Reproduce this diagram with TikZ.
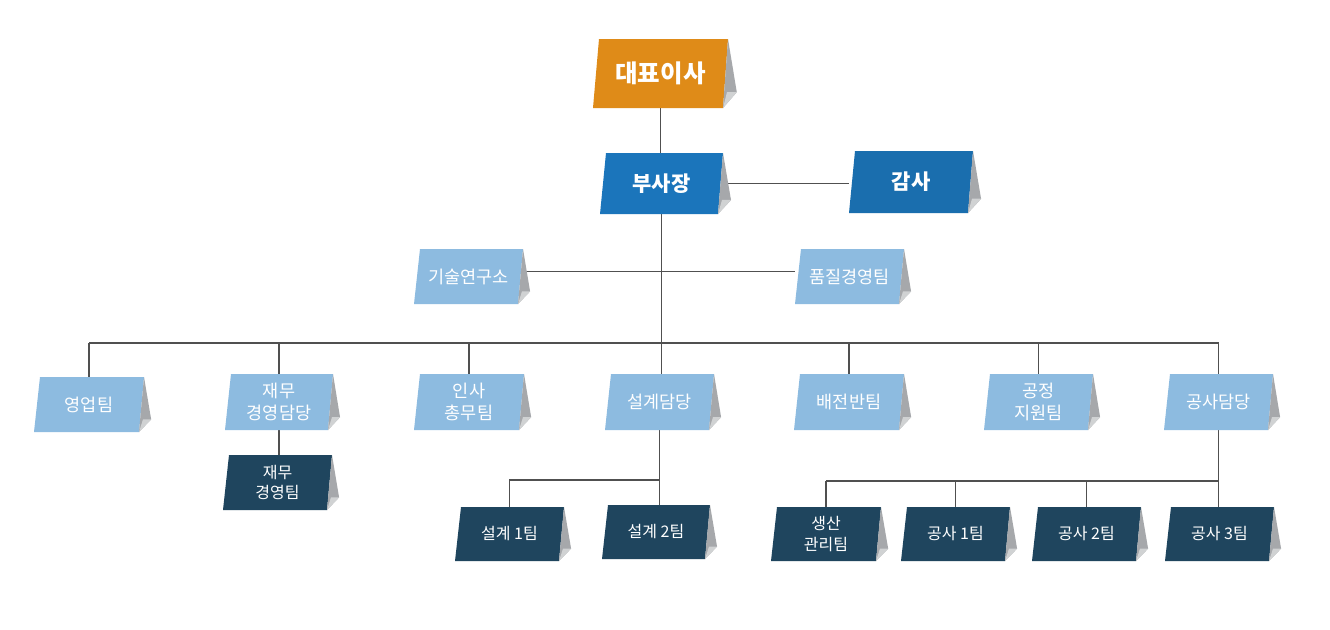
\documentclass[tikz,border=0pt]{standalone}
\usepackage{fontspec}
\newfontfamily\kr{Noto Sans CJK KR}
\usetikzlibrary{calc}
\pgfdeclarelayer{background}
\pgfdeclarelayer{canvas}
\pgfsetlayers{canvas,background,main}
\definecolor{cOrange}{HTML}{DF8B18}
\definecolor{cBlue}{HTML}{1B75BB}
\definecolor{cBlueB}{HTML}{1A6EAE}
\definecolor{cLight}{HTML}{8DBBE0}
\definecolor{cDark}{HTML}{1F455E}
\definecolor{folddark}{HTML}{A6A8AB}
\definecolor{foldlight}{HTML}{D0D2D3}
\definecolor{lineC}{HTML}{505050}
\tikzset{
  lbl/.style={rectangle, inner sep=0pt, text=white, align=center},
  topf/.style={lbl, font=\kr\bfseries\fontsize{24.5}{28}\selectfont},
  midf/.style={lbl, font=\kr\bfseries\fontsize{21}{25}\selectfont},
  deptf/.style={lbl, font=\kr\fontsize{17.5}{21.5}\selectfont},
  teamf/.style={lbl, font=\kr\fontsize{16}{20.5}\selectfont},
  conn/.style={draw=lineC, line width=1.2pt}
}
% #1 name, #2 x0 (bottom-left), #3 y top, #4 x1 (top-right), #5 y bottom, #6 fill colour, #7 text style, #8 text
\newcommand\tentbox[8]{%
  \fill[#6] (#2+6,#3) -- (#4,#3) -- (#4-5,#5) -- (#2,#5) -- cycle;
  \fill[folddark] (#4,#3) -- ({#4+0.065*(#4-#2)},{#3+0.77*(#5-#3)}) -- (#4-5,#5) -- cycle;
  \fill[foldlight] ({#4+0.065*(#4-#2)},{#3+0.77*(#5-#3)}) -- (#4-5,#5) -- ({#4-1},{#3+0.77*(#5-#3)}) -- cycle;
  \node[#7, minimum width={(#4-#2)*1pt}, minimum height={(#5-#3)*1pt}] (#1) at ({(#2+#4)/2},{(#3+#5)/2}) {#8};
}
\begin{document}
\begin{tikzpicture}[x=1pt,y=-1pt]
\useasboundingbox (0,0) rectangle (1330,629);
\begin{pgfonlayer}{canvas}
\fill[white] (0,0) rectangle (1330,629);
\end{pgfonlayer}
% top
\tentbox{ceo}{593}{39}{728}{108}{cOrange}{topf}{대표이사}
\tentbox{vp}{600}{153}{723}{214}{cBlue}{midf}{부사장}
\tentbox{audit}{849}{151}{973}{213}{cBlueB}{midf}{감사}
% staff
\tentbox{rnd}{414}{249}{523}{304}{cLight}{deptf}{기술연구소}
\tentbox{qm}{795}{249}{904}{304}{cLight}{deptf}{품질경영팀}
% departments
\tentbox{sales}{34}{377}{144}{432}{cLight}{deptf}{영업팀}
\tentbox{fin}{225}{374}{333}{430}{cLight}{deptf}{재무\\경영담당}
\tentbox{hr}{414}{374}{524}{430}{cLight}{deptf}{인사\\총무팀}
\tentbox{design}{605}{374}{714}{430}{cLight}{deptf}{설계담당}
\tentbox{panel}{794}{374}{904}{430}{cLight}{deptf}{배전반팀}
\tentbox{proc}{984}{374}{1093}{430}{cLight}{deptf}{공정\\지원팀}
\tentbox{const}{1164}{374}{1273}{430}{cLight}{deptf}{공사담당}
% teams
\tentbox{finteam}{223}{455}{332}{510}{cDark}{teamf}{재무\\경영팀}
\tentbox{d1}{455}{507}{564}{561}{cDark}{teamf}{설계 1팀}
\tentbox{d2}{602}{505}{710}{559}{cDark}{teamf}{설계 2팀}
\tentbox{prod}{771}{507}{881}{561}{cDark}{teamf}{생산\\관리팀}
\tentbox{c1}{901}{507}{1010}{561}{cDark}{teamf}{공사 1팀}
\tentbox{c2}{1032}{507}{1141}{561}{cDark}{teamf}{공사 2팀}
\tentbox{c3}{1165}{507}{1274}{561}{cDark}{teamf}{공사 3팀}
\coordinate (bus) at (660,343);
\coordinate (dbus) at (660,480);
\coordinate (cbus) at (1221,481);
\begin{pgfonlayer}{background}
\draw[conn] (ceo.south) -- (ceo.south |- vp.north);
\draw[conn] (vp.south) -- (vp.south |- design.north);
\draw[conn] (vp.east) -- (vp.east -| audit.west);
\draw[conn] ([yshift=5pt]rnd.east) -- ([yshift=5pt]qm.west);
\draw[conn] (bus -| sales.north) -- (bus -| const.north);
\foreach \n in {sales,fin,hr,panel,proc,const}
  \draw[conn] (bus -| \n.north) -- (\n.north);
\draw[conn] (fin.south) -- (fin.south |- finteam.north);
\draw[conn] (design.south) -- (design.south |- d2.north);
\draw[conn] (dbus -| design.south) -- (dbus -| d1.north) -- (d1.north);
\draw[conn] (const.south) -- (const.south |- c3.north);
\draw[conn] (cbus -| const.south) -- (cbus -| prod.north);
\foreach \n in {prod,c1,c2}
  \draw[conn] (cbus -| \n.north) -- (\n.north);
\end{pgfonlayer}
\end{tikzpicture}
\end{document}
